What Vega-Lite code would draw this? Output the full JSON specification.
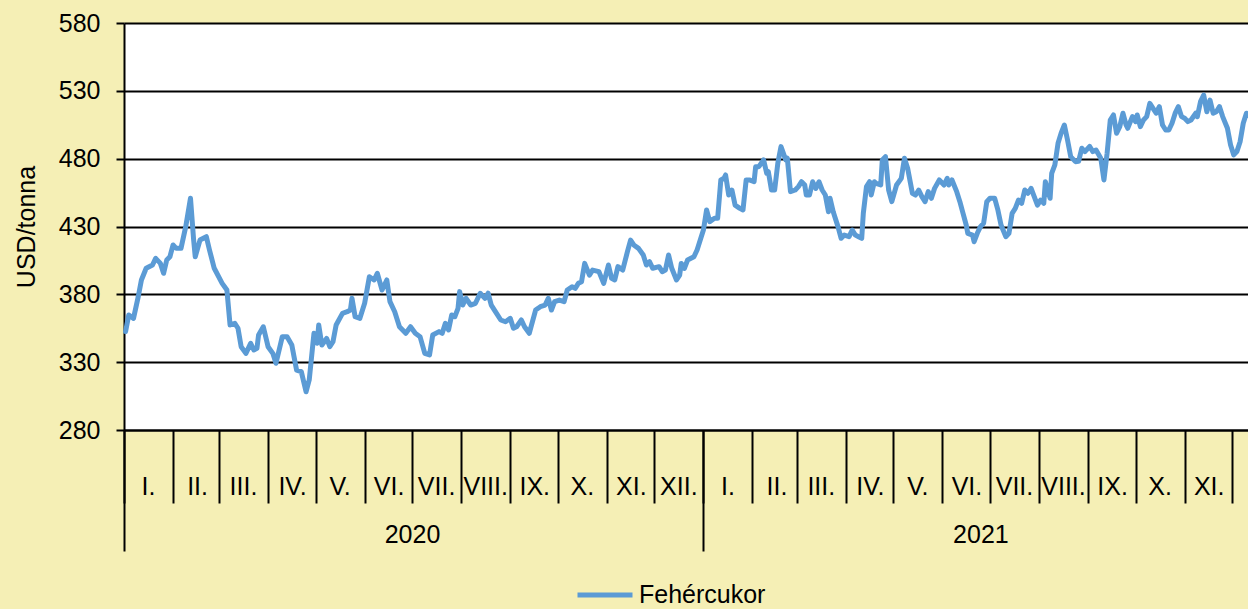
{
"$schema":"https://vega.github.io/schema/vega-lite/v6.json",
"width":1124,"height":407,
"autosize":{"type":"none"},
"padding":{"left":124,"top":23,"right":0,"bottom":179},
"background":"#F5EFB5",
"config":{"font":"Liberation Sans","view":{"fill":"white","stroke":null}},
"layer":[
{
"data":{"values":[
{"d":"2020-01-02","v":352.5},{"d":"2020-01-04","v":364.8},{"d":"2020-01-07","v":362.3},{"d":"2020-01-10","v":378.3},{"d":"2020-01-12","v":390.6},{"d":"2020-01-15","v":399.2},{"d":"2020-01-19","v":401.6},{"d":"2020-01-21","v":406.5},{"d":"2020-01-24","v":402.8},{"d":"2020-01-26","v":395.5},{"d":"2020-01-28","v":405.3},{"d":"2020-01-30","v":407.7},
{"d":"2020-02-01","v":416.4},{"d":"2020-02-03","v":413.9},{"d":"2020-02-06","v":413.9},{"d":"2020-02-09","v":429.9},{"d":"2020-02-12","v":450.8},{"d":"2020-02-14","v":420},{"d":"2020-02-15","v":407.7},{"d":"2020-02-18","v":420},{"d":"2020-02-22","v":422.5},{"d":"2020-02-24","v":412.7},{"d":"2020-02-27","v":399.2},
{"d":"2020-03-03","v":388.1},{"d":"2020-03-06","v":383.2},{"d":"2020-03-08","v":357.4},{"d":"2020-03-11","v":358.6},{"d":"2020-03-13","v":355},{"d":"2020-03-15","v":341.4},{"d":"2020-03-18","v":336.5},{"d":"2020-03-21","v":343.9},{"d":"2020-03-23","v":339},{"d":"2020-03-25","v":340.2},{"d":"2020-03-26","v":350},{"d":"2020-03-29","v":356.1},
{"d":"2020-04-01","v":341.4},{"d":"2020-04-04","v":336.5},{"d":"2020-04-06","v":329.2},{"d":"2020-04-10","v":348.8},{"d":"2020-04-13","v":348.8},{"d":"2020-04-16","v":342.6},{"d":"2020-04-19","v":324.2},{"d":"2020-04-22","v":323},{"d":"2020-04-25","v":308.2},{"d":"2020-04-27","v":316.9},{"d":"2020-04-30","v":351.3},
{"d":"2020-05-02","v":343.9},{"d":"2020-05-03","v":357.4},{"d":"2020-05-05","v":342.6},{"d":"2020-05-08","v":347.5},{"d":"2020-05-10","v":341.4},{"d":"2020-05-12","v":345.1},{"d":"2020-05-14","v":357.4},{"d":"2020-05-18","v":366},{"d":"2020-05-21","v":367.2},{"d":"2020-05-23","v":368.4},{"d":"2020-05-24","v":377.1},{"d":"2020-05-26","v":363.5},{"d":"2020-05-29","v":362.3},
{"d":"2020-06-01","v":373.4},{"d":"2020-06-04","v":393},{"d":"2020-06-07","v":390.6},{"d":"2020-06-09","v":395.5},{"d":"2020-06-12","v":383.2},{"d":"2020-06-15","v":390.6},{"d":"2020-06-17","v":374.6},{"d":"2020-06-20","v":367.2},{"d":"2020-06-23","v":356.1},{"d":"2020-06-27","v":351.3},{"d":"2020-06-30","v":356.1},
{"d":"2020-07-03","v":351.3},{"d":"2020-07-06","v":348.8},{"d":"2020-07-09","v":336.5},{"d":"2020-07-12","v":335.3},{"d":"2020-07-14","v":350},{"d":"2020-07-18","v":352.5},{"d":"2020-07-20","v":351.3},{"d":"2020-07-22","v":358.6},{"d":"2020-07-24","v":353.7},{"d":"2020-07-26","v":364.8},{"d":"2020-07-28","v":363.5},{"d":"2020-07-30","v":369.7},{"d":"2020-07-31","v":382},
{"d":"2020-08-02","v":372.1},{"d":"2020-08-04","v":377.1},{"d":"2020-08-07","v":372.1},{"d":"2020-08-10","v":373.4},{"d":"2020-08-13","v":380.8},{"d":"2020-08-16","v":377},{"d":"2020-08-18","v":380.8},{"d":"2020-08-20","v":372.1},{"d":"2020-08-22","v":368.4},{"d":"2020-08-26","v":361.1},{"d":"2020-08-29","v":359.8},
{"d":"2020-09-01","v":362.3},{"d":"2020-09-03","v":355},{"d":"2020-09-05","v":356.1},{"d":"2020-09-08","v":361.1},{"d":"2020-09-10","v":356.1},{"d":"2020-09-13","v":351.3},{"d":"2020-09-17","v":368.4},{"d":"2020-09-20","v":370.9},{"d":"2020-09-23","v":372.1},{"d":"2020-09-25","v":377.1},{"d":"2020-09-27","v":368.4},{"d":"2020-09-29","v":374.6},
{"d":"2020-10-02","v":375.8},{"d":"2020-10-05","v":374.6},{"d":"2020-10-07","v":383.2},{"d":"2020-10-10","v":385.6},{"d":"2020-10-12","v":384.4},{"d":"2020-10-14","v":388.1},{"d":"2020-10-16","v":389.3},{"d":"2020-10-18","v":402.8},{"d":"2020-10-21","v":394.2},{"d":"2020-10-23","v":397.9},{"d":"2020-10-27","v":396.7},{"d":"2020-10-30","v":388.1},
{"d":"2020-11-02","v":401.6},{"d":"2020-11-04","v":391.8},{"d":"2020-11-06","v":390.6},{"d":"2020-11-08","v":400.4},{"d":"2020-11-11","v":397.9},{"d":"2020-11-14","v":411.4},{"d":"2020-11-16","v":420},{"d":"2020-11-18","v":416.4},{"d":"2020-11-21","v":413.9},{"d":"2020-11-24","v":409},{"d":"2020-11-26","v":401.6},{"d":"2020-11-28","v":404},{"d":"2020-11-30","v":399.2},
{"d":"2020-12-04","v":400.4},{"d":"2020-12-06","v":396.7},{"d":"2020-12-08","v":397.9},{"d":"2020-12-10","v":409},{"d":"2020-12-12","v":399.2},{"d":"2020-12-15","v":390.6},{"d":"2020-12-17","v":394.2},{"d":"2020-12-18","v":402.8},{"d":"2020-12-20","v":399.2},{"d":"2020-12-22","v":405.3},{"d":"2020-12-26","v":407.7},{"d":"2020-12-28","v":412.7},{"d":"2020-12-30","v":420},
{"d":"2021-01-01","v":427.4},{"d":"2021-01-03","v":442.2},{"d":"2021-01-05","v":433.6},{"d":"2021-01-08","v":436.1},{"d":"2021-01-10","v":436.1},{"d":"2021-01-12","v":464.3},{"d":"2021-01-14","v":465.5},{"d":"2021-01-15","v":468},{"d":"2021-01-17","v":453.2},{"d":"2021-01-19","v":456.9},{"d":"2021-01-21","v":445.8},{"d":"2021-01-24","v":443.4},{"d":"2021-01-26","v":442.2},{"d":"2021-01-28","v":464.3},{"d":"2021-01-30","v":464.3},
{"d":"2021-02-02","v":463},{"d":"2021-02-03","v":474.1},{"d":"2021-02-05","v":474.1},{"d":"2021-02-08","v":479.1},{"d":"2021-02-10","v":469.2},{"d":"2021-02-11","v":470.4},{"d":"2021-02-13","v":456.9},{"d":"2021-02-15","v":456.9},{"d":"2021-02-17","v":476.6},{"d":"2021-02-19","v":488.9},{"d":"2021-02-22","v":479.1},{"d":"2021-02-23","v":480.3},{"d":"2021-02-25","v":455.7},{"d":"2021-02-28","v":456.9},
{"d":"2021-03-02","v":459.4},{"d":"2021-03-04","v":463},{"d":"2021-03-06","v":460.6},{"d":"2021-03-07","v":453.2},{"d":"2021-03-09","v":453.2},{"d":"2021-03-11","v":463},{"d":"2021-03-13","v":458.1},{"d":"2021-03-15","v":463},{"d":"2021-03-17","v":456.9},{"d":"2021-03-19","v":453.2},{"d":"2021-03-21","v":440.9},{"d":"2021-03-22","v":450.8},{"d":"2021-03-24","v":440.9},{"d":"2021-03-25","v":437.2},{"d":"2021-03-27","v":429.9},{"d":"2021-03-29","v":421.3},{"d":"2021-03-31","v":423.7},
{"d":"2021-04-03","v":422.5},{"d":"2021-04-05","v":427.4},{"d":"2021-04-07","v":423.7},{"d":"2021-04-09","v":422.5},{"d":"2021-04-11","v":421.3},{"d":"2021-04-12","v":439.7},{"d":"2021-04-14","v":459.4},{"d":"2021-04-16","v":463},{"d":"2021-04-17","v":453.2},{"d":"2021-04-19","v":463},{"d":"2021-04-20","v":461.8},{"d":"2021-04-23","v":460.6},{"d":"2021-04-24","v":479.1},{"d":"2021-04-26","v":481.5},{"d":"2021-04-28","v":456.9},{"d":"2021-04-30","v":448.3},
{"d":"2021-05-03","v":460.6},{"d":"2021-05-06","v":465.5},{"d":"2021-05-08","v":480.3},{"d":"2021-05-10","v":472.9},{"d":"2021-05-13","v":454.5},{"d":"2021-05-15","v":453.2},{"d":"2021-05-17","v":456.9},{"d":"2021-05-19","v":452},{"d":"2021-05-21","v":448.3},{"d":"2021-05-23","v":455.7},{"d":"2021-05-25","v":450.8},{"d":"2021-05-27","v":458.1},{"d":"2021-05-30","v":464.3},
{"d":"2021-06-02","v":460.6},{"d":"2021-06-04","v":465.5},{"d":"2021-06-05","v":460.6},{"d":"2021-06-07","v":464.3},{"d":"2021-06-10","v":455.7},{"d":"2021-06-12","v":448.3},{"d":"2021-06-14","v":439.7},{"d":"2021-06-16","v":431.1},{"d":"2021-06-17","v":425},{"d":"2021-06-20","v":423.7},{"d":"2021-06-21","v":418.8},{"d":"2021-06-23","v":425},{"d":"2021-06-25","v":429.9},{"d":"2021-06-27","v":432.4},{"d":"2021-06-29","v":448.3},
{"d":"2021-07-01","v":450.8},{"d":"2021-07-04","v":450.8},{"d":"2021-07-06","v":442.2},{"d":"2021-07-08","v":431.1},{"d":"2021-07-11","v":422.5},{"d":"2021-07-13","v":425},{"d":"2021-07-15","v":439.7},{"d":"2021-07-17","v":443.4},{"d":"2021-07-19","v":449.5},{"d":"2021-07-21","v":447.1},{"d":"2021-07-23","v":456.9},{"d":"2021-07-25","v":454.5},{"d":"2021-07-27","v":458.1},{"d":"2021-07-31","v":445.8},
{"d":"2021-08-02","v":449.5},{"d":"2021-08-04","v":447.1},{"d":"2021-08-05","v":463},{"d":"2021-08-07","v":454.5},{"d":"2021-08-08","v":450.8},{"d":"2021-08-09","v":469.2},{"d":"2021-08-11","v":475.4},{"d":"2021-08-13","v":491.3},{"d":"2021-08-15","v":499},{"d":"2021-08-17","v":504.8},{"d":"2021-08-19","v":493.8},{"d":"2021-08-21","v":481.5},{"d":"2021-08-24","v":477.8},{"d":"2021-08-26","v":478},{"d":"2021-08-28","v":487.7},{"d":"2021-08-30","v":485.2},
{"d":"2021-09-02","v":489},{"d":"2021-09-04","v":485.2},{"d":"2021-09-06","v":486.4},{"d":"2021-09-09","v":480.3},{"d":"2021-09-11","v":464.3},{"d":"2021-09-13","v":484},{"d":"2021-09-15","v":508.5},{"d":"2021-09-17","v":512.2},{"d":"2021-09-19","v":498.7},{"d":"2021-09-21","v":503.6},{"d":"2021-09-23","v":513.5},{"d":"2021-09-25","v":504.8},{"d":"2021-09-26","v":502.4},{"d":"2021-09-29","v":511},
{"d":"2021-10-01","v":507.3},{"d":"2021-10-02","v":512.2},{"d":"2021-10-04","v":503.6},{"d":"2021-10-06","v":508.5},{"d":"2021-10-08","v":511},{"d":"2021-10-10","v":520.8},{"d":"2021-10-12","v":517.1},{"d":"2021-10-14","v":513.5},{"d":"2021-10-16","v":518.3},{"d":"2021-10-18","v":504.8},{"d":"2021-10-20","v":501.1},{"d":"2021-10-22","v":501.1},{"d":"2021-10-24","v":506.1},{"d":"2021-10-26","v":513.5},{"d":"2021-10-28","v":518.3},{"d":"2021-10-30","v":511},
{"d":"2021-11-01","v":509.8},{"d":"2021-11-03","v":507.3},{"d":"2021-11-05","v":508.5},{"d":"2021-11-08","v":513.5},{"d":"2021-11-09","v":511},{"d":"2021-11-11","v":522},{"d":"2021-11-13","v":526.9},{"d":"2021-11-15","v":514.6},{"d":"2021-11-17","v":523.2},{"d":"2021-11-19","v":513.5},{"d":"2021-11-21","v":514.6},{"d":"2021-11-23","v":518.3},{"d":"2021-11-25","v":511},{"d":"2021-11-28","v":502.4},{"d":"2021-11-30","v":490.1},
{"d":"2021-12-02","v":482.8},{"d":"2021-12-04","v":485.2},{"d":"2021-12-06","v":492.5},{"d":"2021-12-08","v":506.1},{"d":"2021-12-10","v":513.5},{"d":"2021-12-11","v":512}
]},
"mark":{"type":"line","strokeWidth":5,"strokeJoin":"round","strokeCap":"round"},
"encoding":{
"x":{"field":"d","type":"temporal",
"scale":{"type":"utc","domain":[{"year":2020,"month":1,"date":1,"utc":true},{"year":2021,"month":12,"date":11,"utc":true}]},
"axis":{"title":null,"grid":false,"domainColor":"black","domainWidth":2,"tickColor":"black","tickWidth":2,"tickSize":73,
"tickCount":{"interval":"month","step":1},
"labelExpr":"(utcyear(datum.value) == 2021 && utcmonth(datum.value) == 11) ? '' : ['I.','II.','III.','IV.','V.','VI.','VII.','VIII.','IX.','X.','XI.','XII.'][utcmonth(datum.value)]",
"labelOffset":24,"labelAlign":"center","labelBaseline":"middle","labelAngle":0,"labelPadding":-17,"labelFlush":false,"labelOverlap":false,"labelBound":false,
"labelFontSize":25,"labelColor":"black","labelFont":"Liberation Sans"}},
"y":{"field":"v","type":"quantitative","scale":{"domain":[280,580],"nice":false,"zero":false},
"axis":{"title":"USD/tonna","titleFontSize":25,"titleFontWeight":"normal","titleColor":"black","titleFont":"Liberation Sans","titlePadding":19,
"values":[280,330,380,430,480,530,580],"grid":true,"gridColor":"black","gridWidth":2,"domainColor":"black","domainWidth":2,
"tickColor":"black","tickWidth":2,"tickSize":8,"labelPadding":16,"labelFontSize":25,"labelColor":"black","labelFont":"Liberation Sans"}},
"color":{"datum":"Fehércukor","type":"nominal","scale":{"range":["#5B9BD5"]},
"legend":{"title":null,"orient":"none","legendX":451,"legendY":542,"symbolType":"stroke","symbolSize":3025,"symbolStrokeWidth":5,"labelFontSize":25,"labelColor":"black","labelFont":"Liberation Sans","labelOffset":4,"padding":0}}
}
},
{
"data":{"values":[{"d":"2020-01-01"},{"d":"2021-12-11"}]},
"mark":{"type":"rule","opacity":0},
"encoding":{
"x":{"field":"d","type":"temporal",
"axis":{"orient":"bottom","title":null,"grid":false,"domain":false,"tickColor":"black","tickWidth":2,"tickSize":121,
"tickCount":{"interval":"year","step":1},
"labelExpr":"utcFormat(datum.value, '%Y')",
"labelOffset":{"condition":{"test":"utcyear(datum.value) == 2020","value":288},"value":277},
"labelAlign":"center","labelBaseline":"middle","labelAngle":0,"labelPadding":-17,"labelFlush":false,"labelOverlap":false,"labelBound":false,
"labelFontSize":25,"labelColor":"black","labelFont":"Liberation Sans"}}
}
}
],
"resolve":{"axis":{"x":"independent"}}
}
